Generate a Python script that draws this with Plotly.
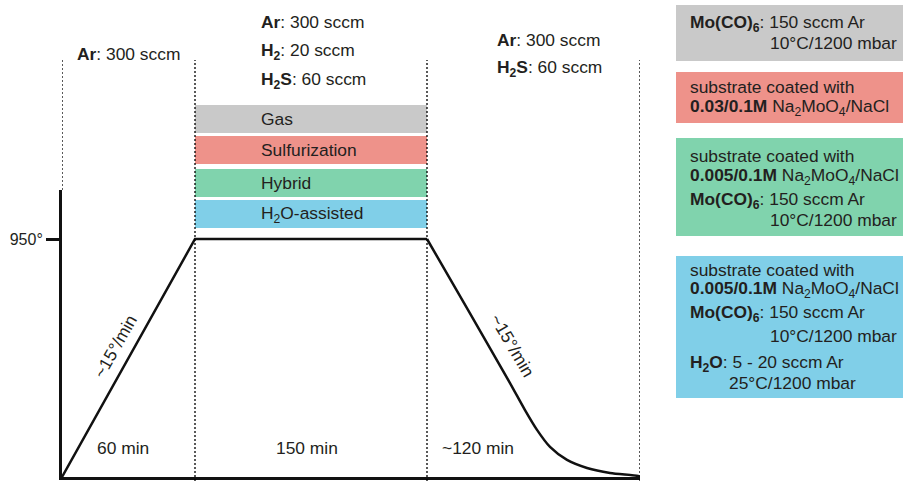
import plotly.graph_objects as go

W, H = 903, 481

# ---- data (schematic time position vs temperature in °C) ----
stage_bounds = [0, 133, 365, 578]           # schematic positions of stage boundaries
ramp_pos = [0, 133, 365]
ramp_temp = [0, 950, 950]
cool_pos = [365, 408, 448, 463, 475, 488, 505, 525, 548, 576, 578]
cool_temp = [950, 653, 375, 267, 188, 120, 68, 36, 16, 4, 0]
stage_labels = ["60 min", "150 min", "~120 min"]
rate_labels = ["~15°/min", "~15°/min"]
ytick_vals = [950]
ytick_text = ["950°"]
process_names = ["Gas", "Sulfurization", "Hybrid", "H<sub>2</sub>O-assisted"]
process_colors = ["#C9C9C9", "#EE928A", "#80D3AD", "#80CFE8"]

TXT = "#231F20"
FONT = "Liberation Sans, Arial, sans-serif"
FS = 17.4


def px(x):
    return x / W


def py(y):
    return 1 - y / H


fig = go.Figure()
fig.add_trace(go.Scatter(x=ramp_pos, y=ramp_temp, mode="lines",
                         line=dict(color="#111", width=2.5), hoverinfo="skip"))
fig.add_trace(go.Scatter(x=cool_pos, y=cool_temp, mode="lines",
                         line=dict(color="#111", width=2.5, shape="spline", smoothing=0.8),
                         hoverinfo="skip"))

shapes = []
# process bars
bar_px = [(105, 133), (136, 164), (169, 197), (200, 228)]
for (y0, y1), c in zip(bar_px, process_colors):
    shapes.append(dict(type="rect", xref="x", yref="paper", x0=stage_bounds[1], x1=stage_bounds[2],
                       y0=py(y1), y1=py(y0), fillcolor=c, line=dict(width=0), layer="below"))
# right-hand boxes
box_px = [(5, 61), (72, 123), (138, 236), (256, 398)]
for (y0, y1), c in zip(box_px, process_colors):
    shapes.append(dict(type="rect", xref="paper", yref="paper", x0=px(676), x1=1.0,
                       y0=py(y1), y1=py(y0), fillcolor=c, line=dict(width=0), layer="below"))
# dotted stage lines
for i, b in enumerate(stage_bounds):
    y_bot = py(190) if i == 0 else 0
    shapes.append(dict(type="line", xref="x", yref="paper", x0=b, x1=b, y0=y_bot, y1=py(60),
                       line=dict(color="#000", width=1.3, dash="2px,2px"), layer="above"))

ann = []


def text(x, y, s, anchor="left", size=FS, angle=0):
    ann.append(dict(x=px(x), y=py(y), xref="paper", yref="paper", text=s, showarrow=False,
                    xanchor=anchor, yanchor="middle", textangle=angle,
                    font=dict(family=FONT, size=size, color=TXT)))


# gas flows
text(75, 54, "<b>Ar</b>: 300 sccm")
text(259, 22, "<b>Ar</b>: 300 sccm")
text(259, 51, "<b>H<sub>2</sub></b>: 20 sccm")
text(259, 80, "<b>H<sub>2</sub>S</b>: 60 sccm")
text(495, 40, "<b>Ar</b>: 300 sccm")
text(495, 69, "<b>H<sub>2</sub>S</b>: 60 sccm")

# process names in bars
for (y0, y1), name in zip(bar_px, process_names):
    text(259, (y0 + y1) / 2, name)

# stage durations
for (cx, lab) in zip([123, 307, 478], stage_labels):
    text(cx, 448, lab, anchor="center")

# rates (rotated along the ramps)
text(115, 347, rate_labels[0], anchor="center", angle=-60.5)
text(512, 345, rate_labels[1], anchor="center", angle=59.5)

# right boxes text
mo = "<b>Mo(CO)<sub>6</sub></b>: 150 sccm Ar"
cond = "10°C/1200 mbar"
text(688, 23, mo)
text(768, 43, cond)
text(688, 87, "substrate coated with")
text(688, 107, "<b>0.03/0.1M</b> Na<sub>2</sub>MoO<sub>4</sub>/NaCl")
text(688, 156, "substrate coated with")
text(688, 176, "<b>0.005/0.1M</b> Na<sub>2</sub>MoO<sub>4</sub>/NaCl")
text(688, 200, mo)
text(768, 220, cond)
text(688, 270, "substrate coated with")
text(688, 289, "<b>0.005/0.1M</b> Na<sub>2</sub>MoO<sub>4</sub>/NaCl")
text(688, 313, mo)
text(768, 336, cond)
text(688, 363, "<b>H<sub>2</sub>O</b>: 5 - 20 sccm Ar")
text(727, 383, "25°C/1200 mbar")

fig.update_layout(
    width=W, height=H, margin=dict(l=0, r=0, t=0, b=0),
    paper_bgcolor="white", plot_bgcolor="white", showlegend=False,
    shapes=shapes, annotations=ann,
    xaxis=dict(domain=[px(62), px(640)], range=[stage_bounds[0], stage_bounds[-1]],
               showline=True, linewidth=3, linecolor="#111", showgrid=False, zeroline=False,
               showticklabels=False, ticks="", fixedrange=True),
    yaxis=dict(domain=[py(477), py(190)], range=[0, 950 * 287 / 238],
               showline=True, linewidth=3, linecolor="#111", showgrid=False, zeroline=False,
               tickmode="array", tickvals=ytick_vals, ticktext=ytick_text,
               ticks="outside", ticklen=13, tickwidth=2.5, tickcolor="#111",
               tickfont=dict(family=FONT, size=16, color=TXT), fixedrange=True),
)

fig.write_html("out.html")
